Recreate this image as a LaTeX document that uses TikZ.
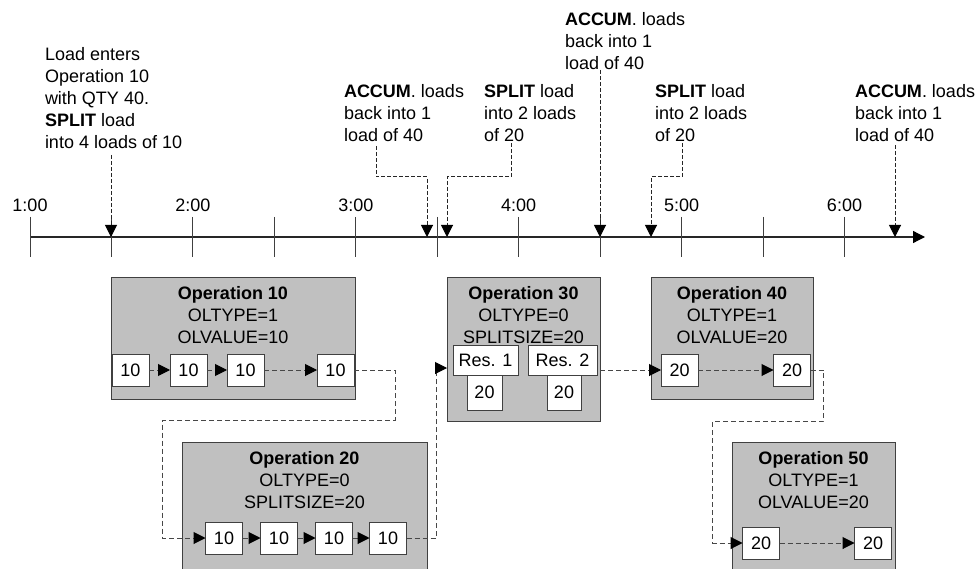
\documentclass[tikz,border=0pt]{standalone}
\usepackage{fontspec}
\setmainfont{Liberation Sans}
\usetikzlibrary{arrows.meta,calc}
\definecolor{boxgray}{HTML}{C0C0C0}
\definecolor{edgegray}{HTML}{404040}
\definecolor{linegray}{HTML}{474747}
\tikzset{
  every node/.style={font=\fontsize{18}{22}\selectfont, inner sep=0pt, outer sep=0pt},
  opbox/.style={draw=edgegray, fill=boxgray, line width=1pt},
  sbox/.style={draw=edgegray, fill=white, line width=1pt, minimum width=37, minimum height=32},
  optext/.style={anchor=north, align=center},
  note/.style={anchor=north west, align=left},
  tip/.style={-{Triangle[length=12pt,width=12pt,color=black]}},
  conn/.style={tip, draw=linegray, line width=1pt, dash pattern=on 5pt off 3pt},
  marker/.style={tip, draw=black!85, line width=1pt, dash pattern=on 4pt off 2pt},
  axisline/.style={-{Triangle[length=12pt,width=12pt,color=black]}, line width=1.2pt, draw=black!85},
  tickline/.style={line width=1pt, draw=black!75}
}
\begin{document}
\begin{tikzpicture}[x=1pt,y=-1pt]
\useasboundingbox (0,0) rectangle (976,569);
\begin{scope}
\clip (0,0) rectangle (976,569);

% ---------------- timeline ----------------
\draw[axisline] (30,237) coordinate (ax0) -- (925,237) coordinate (ax1);
\foreach \i in {0,...,10}
  \draw[tickline] ({30+81.45*\i},217) -- ({30+81.45*\i},257);
\foreach \i/\t in {0/1:00,2/2:00,4/3:00,6/4:00,8/5:00,10/6:00}
  \node[anchor=base] (lab\i) at ({30+81.45*\i},212) {\t};

% markers on the axis
\coordinate (m1) at (111,237);
\coordinate (m2) at (427,237);
\coordinate (m3) at (447,237);
\coordinate (m4) at (600,237);
\coordinate (m5) at (651,237);
\coordinate (m6) at (895,237);

% ---------------- annotations ----------------
\node[note] (n1) at (45,47) {Load enters\\Operation 10\\with QTY 40.\\\textbf{SPLIT} load\\into 4 loads of 10};
\node[note] (n2) at (344,84) {\textbf{ACCUM}. loads\\back into 1\\load of 40};
\node[note] (n3) at (484,84) {\textbf{SPLIT} load\\into 2 loads\\of 20};
\node[note] (n4) at (565,12) {\textbf{ACCUM}. loads\\back into 1\\load of 40};
\node[note] (n5) at (655,84) {\textbf{SPLIT} load\\into 2 loads\\of 20};
\node[note] (n6) at (855,84) {\textbf{ACCUM}. loads\\back into 1\\load of 40};

\coordinate (s1) at (111,155);
\coordinate (s2) at (376,146);
\coordinate (s3) at (511,143);
\coordinate (s4) at (600,70);
\coordinate (s5) at (682,143);
\coordinate (s6) at (895,145);

\draw[marker] (s1) -- (m1);
\draw[marker] (s2) -- ++(0,31) -| (m2);
\draw[marker] (s3) -- ++(0,34) -| (m3);
\draw[marker] (s4) -- (m4);
\draw[marker] (s5) -- ++(0,34) -| (m5);
\draw[marker] (s6) -- (m6);

% ---------------- operation boxes ----------------
\node[opbox, minimum width=244, minimum height=122] (op10) at (233,338) {};
\node[opbox, minimum width=245, minimum height=150] (op20) at (304.5,517) {};
\node[opbox, minimum width=153, minimum height=144] (op30) at (523.5,349) {};
\node[opbox, minimum width=162, minimum height=122] (op40) at (732,338) {};
\node[opbox, minimum width=163, minimum height=150] (op50) at (813.5,517) {};

\node[optext] (t10) at ($(op10.north)+(0,9)$) {\textbf{Operation 10}\\OLTYPE=1\\OLVALUE=10};
\node[optext] (t20) at (304.5,451) {\textbf{Operation 20}\\OLTYPE=0\\SPLITSIZE=20};
\node[optext] (t30) at ($(op30.north)+(0,9)$) {\textbf{Operation 30}\\OLTYPE=0\\SPLITSIZE=20};
\node[optext] (t40) at ($(op40.north)+(0,9)$) {\textbf{Operation 40}\\OLTYPE=1\\OLVALUE=20};
\node[optext] (t50) at (813.5,451) {\textbf{Operation 50}\\OLTYPE=1\\OLVALUE=20};

% Operation 10 loads
\node[sbox] (a1) at (130.5,370) {10};
\node[sbox] (a2) at (188.5,370) {10};
\node[sbox] (a3) at (245.5,370) {10};
\node[sbox] (a4) at (335.5,370) {10};
% Operation 20 loads
\node[sbox] (b1) at (224,538) {10};
\node[sbox] (b2) at (279,538) {10};
\node[sbox] (b3) at (334,538) {10};
\node[sbox] (b4) at (388,538) {10};
% Operation 30 resources and loads
\node[sbox, minimum width=65, minimum height=30] (r1) at (485.5,360) {Res. 1};
\node[sbox, minimum width=69, minimum height=30] (r2) at (562.5,360) {Res. 2};
\node[sbox, minimum width=35, minimum height=35] (q1) at (484.5,392.5) {20};
\node[sbox, minimum width=34, minimum height=35] (q2) at (564,392.5) {20};
% Operation 40 loads
\node[sbox] (c1) at (679.5,370) {20};
\node[sbox] (c2) at (792,370) {20};
% Operation 50 loads
\node[sbox] (d1) at (761,543) {20};
\node[sbox] (d2) at (873,543) {20};

% ---------------- connectors ----------------
\draw[conn] (a1) -- (a2);
\draw[conn] (a2) -- (a3);
\draw[conn] (a3) -- (a4);
\draw[conn] (a4.east) -- ++(41,0) -- ++(0,50) -| ([xshift=-43pt]b1.west) -- (b1.west);
\draw[conn] (b1) -- (b2);
\draw[conn] (b2) -- (b3);
\draw[conn] (b3) -- (b4);
\draw[conn] (b4.east) -- ++(30,0) |- ([yshift=-19pt]op30.west);
\draw[conn] (c1.west -| op30.east) -- (c1.west);
\draw[conn] (c1) -- (c2);
\draw[conn] (c2.east) -- ++(13,0) -- ++(0,51) -| ([xshift=-30pt]d1.west) -- (d1.west);
\draw[conn] (d1) -- (d2);
\end{scope}
\end{tikzpicture}
\end{document}
